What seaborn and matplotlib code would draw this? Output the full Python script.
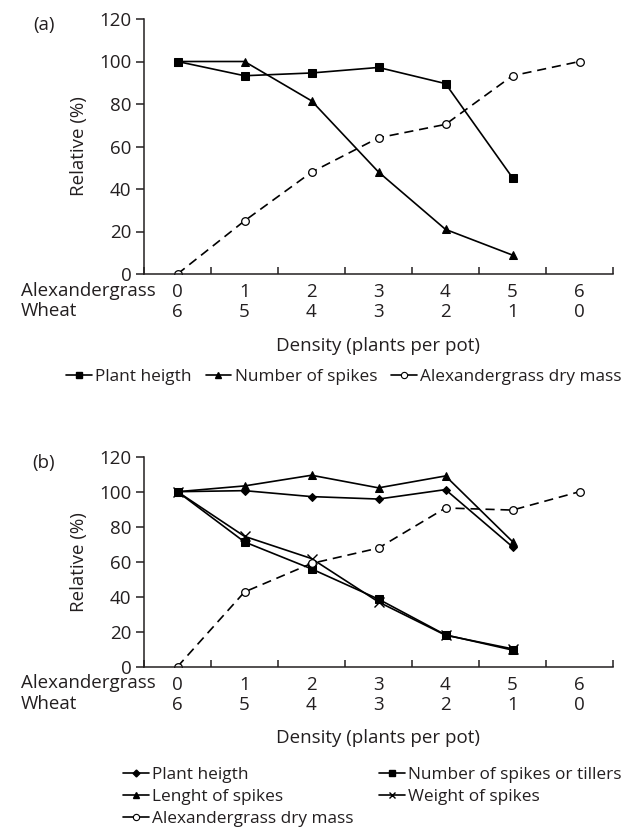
import matplotlib
matplotlib.use("Agg")
import matplotlib.pyplot as plt
import seaborn as sns
import pandas as pd
from matplotlib.lines import Line2D
from matplotlib.ticker import FixedLocator

# ---------------- data ----------------
alexandergrass = [0, 1, 2, 3, 4, 5, 6]
wheat = [6, 5, 4, 3, 2, 1, 0]
y_ticks = [0, 20, 40, 60, 80, 100, 120]

# panel (a)
a_plant_height = [100, 93.3, 94.6, 97.2, 89.6, 45.3]
a_number_spikes = [100, 100, 81.5, 48, 21, 8.9]
a_alex_dry_mass = [0, 25, 47.9, 64.1, 70.4, 93.3, 100]

# panel (b)
b_plant_height = [100, 100.6, 97.2, 95.8, 101.2, 68.5]
b_length_spikes = [100, 103.3, 109.4, 102.2, 109.0, 71.5]
b_number_spikes_tillers = [100, 71.3, 55.9, 38.6, 18.2, 9.5]
b_weight_spikes = [100, 74.5, 61.8, 37.0, 18.0, 10.2]
b_alex_dry_mass = [0, 42.7, 59, 67.8, 90.7, 89.5, 100]

# ---------------- style ----------------
sns.set_theme(style="ticks")
TXT = "#231f20"
plt.rcParams["font.family"] = ["Open Sans", "DejaVu Sans"]
plt.rcParams["text.color"] = TXT
plt.rcParams["axes.labelcolor"] = TXT
plt.rcParams["xtick.color"] = TXT
plt.rcParams["ytick.color"] = TXT
FS = 13.5
LFS = 12.4

W, H = 634, 833
fig = plt.figure(figsize=(W / 100, H / 100), dpi=100)
fig.patch.set_facecolor("white")

def frac_axes(left, top, right, bottom):
    return [left / W, 1 - bottom / H, (right - left) / W, (bottom - top) / H]

ax_a = fig.add_axes(frac_axes(144, 19, 613, 274))
ax_b = fig.add_axes(frac_axes(144, 456.7, 613, 666.7))

LW = 1.2
MS = 6.0
solid_kw = dict(color="black", linewidth=LW, markeredgecolor="black", markerfacecolor="black")
dash_kw = dict(color="black", linewidth=LW, linestyle=(0, (5.5, 3.5)),
               markerfacecolor="white", markeredgecolor="black", markeredgewidth=0.9)

def series(ax, xs, ys, marker, ms, kw, label):
    df = pd.DataFrame({"x": xs[:len(ys)], "y": ys})
    sns.lineplot(data=df, x="x", y="y", ax=ax, marker=marker, markersize=ms,
                 label=label, legend=False, **kw)

# panel a
series(ax_a, alexandergrass, a_plant_height, "s", MS, solid_kw, "Plant heigth")
series(ax_a, alexandergrass, a_number_spikes, "^", MS, solid_kw, "Number of spikes")
series(ax_a, alexandergrass, a_alex_dry_mass, "o", 5.5, dash_kw, "Alexandergrass dry mass")

# panel b
series(ax_b, alexandergrass, b_plant_height, "D", 4.5, solid_kw, "Plant heigth")
series(ax_b, alexandergrass, b_length_spikes, "^", MS, solid_kw, "Lenght of spikes")
series(ax_b, alexandergrass, b_number_spikes_tillers, "s", MS, solid_kw, "Number of spikes or tillers")
series(ax_b, alexandergrass, b_weight_spikes, "x", 6.5,
       dict(color="black", linewidth=LW, markeredgecolor="black", markeredgewidth=1.0),
       "Weight of spikes")
series(ax_b, alexandergrass, b_alex_dry_mass, "o", 5.5, dash_kw, "Alexandergrass dry mass")

tick_labels = [f"{a}\n{w}" for a, w in zip(alexandergrass, wheat)]
LSP = 1.17

for ax in (ax_a, ax_b):
    ax.set_xlim(-0.5, 6.5)
    ax.set_ylim(0, 120)
    sns.despine(ax=ax)
    for s in ("left", "bottom"):
        ax.spines[s].set_linewidth(1.1)
        ax.spines[s].set_color(TXT)
    ax.set_xticks(alexandergrass)
    ax.set_xticklabels(tick_labels, fontsize=FS, linespacing=LSP)
    ax.xaxis.set_minor_locator(FixedLocator([i + 0.5 for i in range(-1, 7)]))
    ax.tick_params(axis="x", which="major", length=0, pad=6.5)
    ax.tick_params(axis="x", which="minor", length=5, width=1.1, direction="in")
    ax.set_yticks(y_ticks)
    ax.set_yticklabels([str(v) for v in y_ticks], fontsize=FS)
    ax.tick_params(axis="y", which="major", length=6, width=1.1, direction="out", pad=3)
    ax.set_ylabel("Relative (%)", fontsize=FS, va="center")
    ax.yaxis.set_label_coords((79 - 144) / 469, 0.5)
    ax.set_xlabel("Density (plants per pot)", fontsize=FS, labelpad=11)
    ax.grid(False)

# row labels, left aligned with the figure margin
fig.text(20.7 / W, 1 - 282 / H, "Alexandergrass\nWheat", fontsize=FS, ha="left", va="top",
         linespacing=LSP)
fig.text(20.7 / W, 1 - 674.5 / H, "Alexandergrass\nWheat", fontsize=FS, ha="left", va="top",
         linespacing=LSP)

fig.text(44 / W, 1 - 25 / H, "(a)", fontsize=FS, ha="center", va="center")
fig.text(44 / W, 1 - 463 / H, "(b)", fontsize=FS, ha="center", va="center")

# legends
def h(marker, ms, fill="black", mew=1.0):
    return Line2D([], [], color="black", linewidth=LW,
                  linestyle="-", marker=marker, markersize=ms,
                  markerfacecolor=fill, markeredgecolor="black", markeredgewidth=mew)

leg_kw = dict(frameon=False, fontsize=LFS, handlelength=1.5, handletextpad=0.2,
              borderpad=0, borderaxespad=0)

fig.legend([h("s", 5), h("^", 5), h("o", 4.5, fill="white", mew=0.8)],
           ["Plant heigth", "Number of spikes", "Alexandergrass dry mass"],
           loc="center left", bbox_to_anchor=(66 / W, 1 - 377 / H), ncol=3,
           columnspacing=0.8, **leg_kw)

fig.legend([h("D", 3.5), h("^", 5), h("o", 4.5, fill="white", mew=0.8)],
           ["Plant heigth", "Lenght of spikes", "Alexandergrass dry mass"],
           loc="upper left", bbox_to_anchor=(123 / W, 1 - 767 / H),
           labelspacing=0.33, **leg_kw)
fig.legend([h("s", 5), h("x", 5)],
           ["Number of spikes or tillers", "Weight of spikes"],
           loc="upper left", bbox_to_anchor=(379 / W, 1 - 767 / H),
           labelspacing=0.33, **leg_kw)

fig.savefig("out.png", dpi=100)
